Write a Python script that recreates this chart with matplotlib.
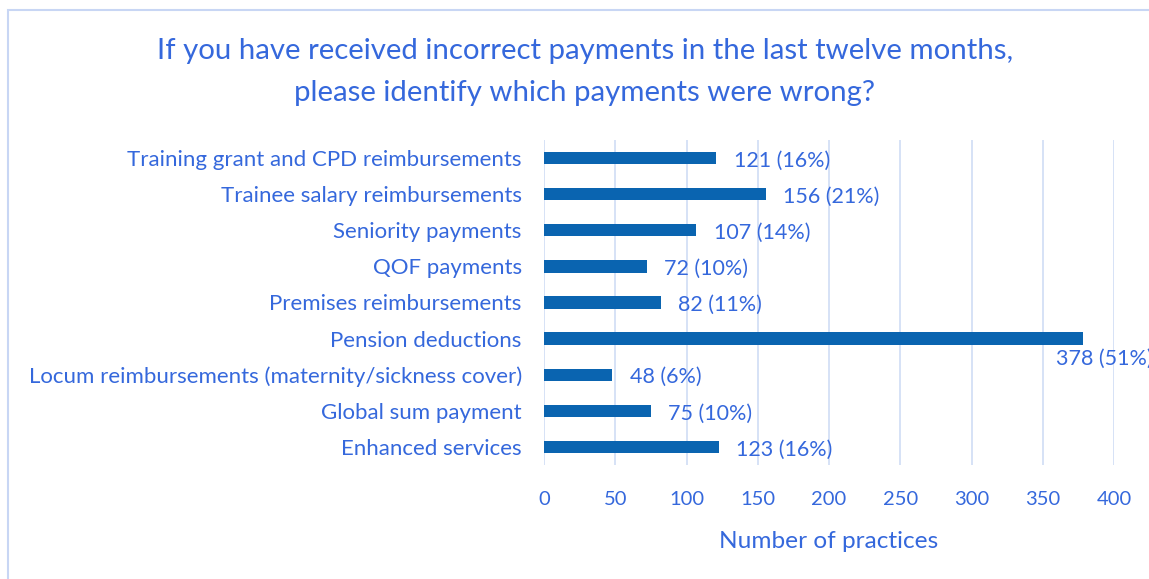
import matplotlib
matplotlib.use("Agg")
import matplotlib.pyplot as plt
from matplotlib.patches import Rectangle

categories = [
    "Training grant and CPD reimbursements",
    "Trainee salary reimbursements",
    "Seniority payments",
    "QOF payments",
    "Premises reimbursements",
    "Pension deductions",
    "Locum reimbursements (maternity/sickness cover)",
    "Global sum payment",
    "Enhanced services",
]
counts = [121, 156, 107, 72, 82, 378, 48, 75, 123]
percents = [16, 21, 14, 10, 11, 51, 6, 10, 16]
xticks = [0, 50, 100, 150, 200, 250, 300, 350, 400]

TEXT = "#3568dc"
BAR = "#0a64b0"
GRID = "#d3dff6"
FONT = "Lato"

plt.rcParams['font.family'] = [FONT, 'DejaVu Sans']

fig = plt.figure(figsize=(11.49, 5.79), dpi=100)
fig.patch.set_facecolor("white")

# outer chart frame (partially cropped)
fig.patches.append(Rectangle((8/1149, -0.05), 1.2, 1 - 10/579 + 0.05,
                             transform=fig.transFigure, fill=False,
                             edgecolor="#c8d6f4", linewidth=1.5))

ax = fig.add_axes([544/1149, 1 - 465/579, 570/1149, 325/579])
y = list(range(len(categories)))
ax.barh(y, counts, height=0.34, color=BAR, zorder=3)
ax.set_ylim(len(categories) - 0.5, -0.5)
ax.set_xlim(0, 400)
ax.set_xticks(xticks)
ax.set_xticklabels([str(t) for t in xticks])
ax.set_yticks(y)
ax.set_yticklabels(categories)
for s in ax.spines.values():
    s.set_visible(False)
ax.grid(axis="x", color=GRID, linewidth=1.3, zorder=0)
ax.tick_params(axis="both", length=0, colors=TEXT)
ax.tick_params(axis="y", pad=16, labelsize=16)
ax.tick_params(axis="x", pad=19, labelsize=14.5)
ax.set_xlabel("Number of practices", color=TEXT, fontsize=17.6, labelpad=16)

for i, (c, p) in enumerate(zip(counts, percents)):
    label = f"{c} ({p}%)"
    if c > 300:
        ax.text(c - 19, i + 0.57, label, color=TEXT, fontsize=15.5,
                ha="left", va="center", clip_on=False, zorder=4)
    else:
        ax.text(c + 12, i + 0.07, label, color=TEXT, fontsize=15.5,
                ha="left", va="center", zorder=4)

fig.text(585/1149, 1 - 51/579, "If you have received incorrect payments in the last twelve months,",
         color=TEXT, fontsize=21.2, ha="center", va="center")
fig.text(585/1149, 1 - 93/579, "please identify which payments were wrong?",
         color=TEXT, fontsize=21.2, ha="center", va="center")

fig.savefig("out.png", dpi=100, facecolor="white")
